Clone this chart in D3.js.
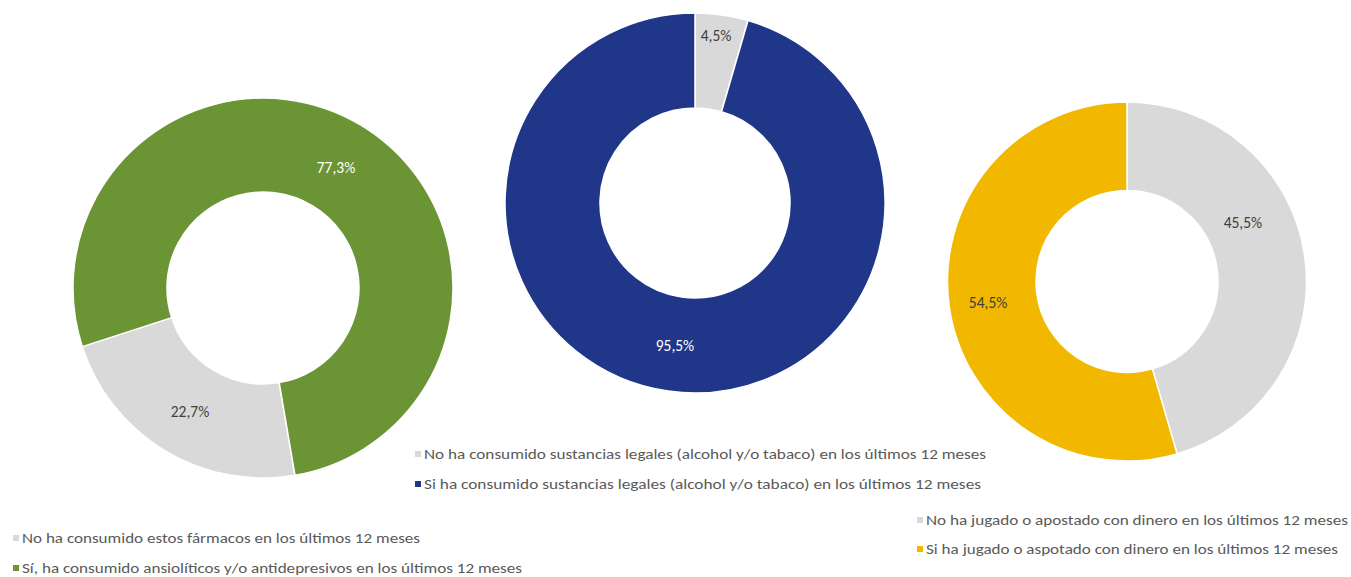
<!DOCTYPE html>
<html>
<head>
<meta charset="utf-8">
<script src="https://cdn.jsdelivr.net/npm/d3@7"></script>
<style>
  html, body { margin: 0; padding: 0; background: #ffffff; }
  svg { display: block; }
  text { font-family: Carlito, Calibri, "Open Sans", "Noto Sans", sans-serif; }
</style>
</head>
<body>
<svg id="chart" width="1351" height="577"></svg>
<script>
// ---- data ----
const farmacosLabels = ["No ha consumido estos fármacos en los últimos 12 meses",
                        "Sí, ha consumido ansiolíticos y/o antidepresivos en los últimos 12 meses"];
const farmacosValues = [22.7, 77.3];

const legalesLabels = ["No ha consumido sustancias legales (alcohol y/o tabaco) en los últimos 12 meses",
                       "Si ha consumido sustancias legales (alcohol y/o tabaco)  en los últimos 12 meses"];
const legalesValues = [4.5, 95.5];

const juegoLabels = ["No ha jugado o apostado con dinero en los últimos 12 meses",
                     "Si ha jugado o aspotado con dinero en los últimos 12 meses"];
const juegoValues = [45.5, 54.5];

const svg = d3.select("#chart");
const fmt = v => d3.format(".1f")(v).replace(".", ",") + "%";

function donut(cfg) {
  const data = cfg.values.map((v, i) => ({ value: v, label: cfg.labels[i], color: cfg.colors[i], text: cfg.textColors[i], off: cfg.labelOffsets[i] }));
  const pie = d3.pie().sort(null).value(d => d.value)
    .startAngle(cfg.start * Math.PI / 180)
    .endAngle((cfg.start + 360) * Math.PI / 180);
  const arc = d3.arc().innerRadius(cfg.ri).outerRadius(cfg.ro);
  const g = svg.append("g").attr("transform", `translate(${cfg.cx},${cfg.cy})`);
  const arcs = pie(data);
  g.selectAll("path").data(arcs).join("path")
    .attr("d", arc)
    .attr("fill", d => d.data.color)
    .attr("stroke", "#ffffff")
    .attr("stroke-width", 1.5);
  g.selectAll("text").data(arcs).join("text")
    .attr("transform", d => {
      const c = arc.centroid(d);
      return `translate(${c[0] + d.data.off[0]},${c[1] + d.data.off[1]})`;
    })
    .attr("text-anchor", "middle")
    .attr("dominant-baseline", "central")
    .attr("font-size", 15.5)
    .attr("fill", d => d.data.text)
    .text(d => fmt(d.data.value));

  // legend
  const lg = svg.append("g");
  data.forEach((d, i) => {
    const y = cfg.legY[i];
    lg.append("rect").attr("x", cfg.legX - 9).attr("y", y - 3).attr("width", 6).attr("height", 6).attr("fill", d.color);
    lg.append("text").attr("x", cfg.legX).attr("y", y)
      .attr("dominant-baseline", "central")
      .attr("font-size", 14.5)
      .attr("fill", "#595959")
      .attr("textLength", cfg.legW[i])
      .attr("lengthAdjust", "spacingAndGlyphs")
      .text(d.label);
  });
}

donut({ values: farmacosValues, labels: farmacosLabels,
  colors: ["#D9D9D9", "#6B9435"], textColors: ["#404040", "#ffffff"],
  cx: 263, cy: 288, ro: 190, ri: 96, start: 170.3,
  labelOffsets: [[1, 1], [-1, 2]],
  legX: 22, legY: [538, 568], legW: [398, 500] });

donut({ values: legalesValues, labels: legalesLabels,
  colors: ["#D9D9D9", "#203689"], textColors: ["#404040", "#ffffff"],
  cx: 695, cy: 203, ro: 190, ri: 95, start: 0,
  labelOffsets: [[1, -26], [0, 1]],
  legX: 424, legY: [454, 484], legW: [562, 557] });

donut({ values: juegoValues, labels: juegoLabels,
  colors: ["#D9D9D9", "#F2B800"], textColors: ["#404040", "#404040"],
  cx: 1127, cy: 281.5, ro: 179.5, ri: 91, start: 0,
  labelOffsets: [[-18, -40], [-5, 2]],
  legX: 926, legY: [520, 549], legW: [422, 412] });
</script>
</body>
</html>
